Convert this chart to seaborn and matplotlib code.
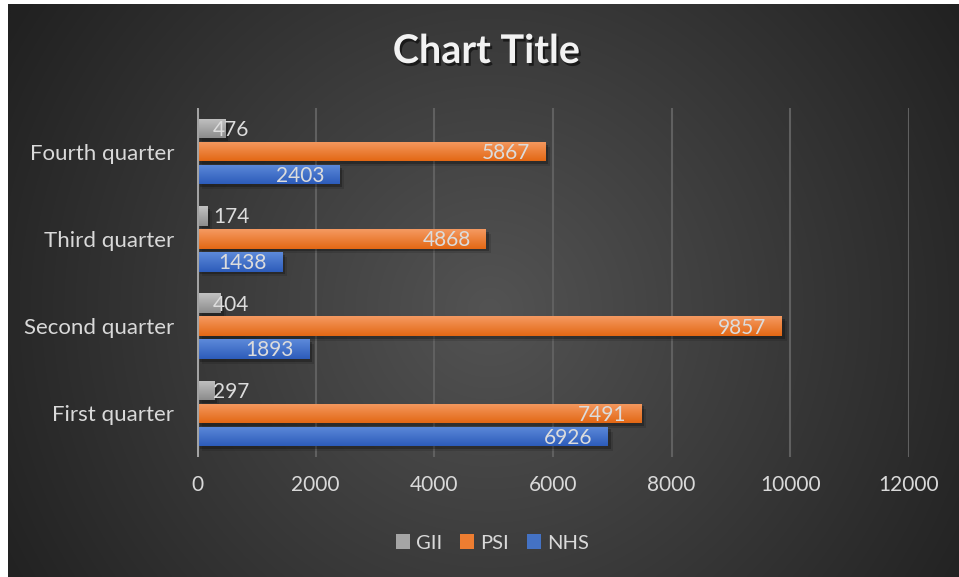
import numpy as np
import pandas as pd
import matplotlib
matplotlib.use("Agg")
import matplotlib.pyplot as plt
import matplotlib.colors as mcolors
import seaborn as sns
from matplotlib import patheffects as pe
from matplotlib.patches import Rectangle

# ---------------- data ----------------
categories = ["Fourth quarter", "Third quarter", "Second quarter", "First quarter"]
series = ["GII", "PSI", "NHS"]
gii = [476, 174, 404, 297]
psi = [5867, 4868, 9857, 7491]
nhs = [2403, 1438, 1893, 6926]
xticks = [0, 2000, 4000, 6000, 8000, 10000, 12000]
title = "Chart Title"

colors = {"GII": "#a5a5a5", "PSI": "#ed7d31", "NHS": "#4472c4"}
grad = {"GII": ("#c2c2c2", "#8c8c8c"),
        "PSI": ("#f59a62", "#e36814"),
        "NHS": ("#5d8ada", "#2d5cba")}

df = pd.DataFrame({
    "quarter": categories * 3,
    "series": [s for s in series for _ in categories],
    "value": gii + psi + nhs,
})

sns.set_theme(style="dark")
plt.rcParams["font.family"] = ["Lato", "DejaVu Sans"]

W, H = 959, 577
fig = plt.figure(figsize=(W / 100, H / 100), dpi=100, facecolor="white")

# ---------------- radial background ----------------
bg = fig.add_axes([8 / W, 0, 1 - 8 / W, 1 - 4 / H], zorder=-10)
bg.set_axis_off()
ny, nx = 300, 500
yy, xx = np.mgrid[0:ny, 0:nx]
px = 8 + (xx + 0.5) / nx * (W - 8)
py = 4 + (yy + 0.5) / ny * (H - 4)
cx, cy = 490, 310
d = np.clip(np.hypot(px - cx, py - cy) / 560, 0, 1)
c0, c1 = 0x53 / 255, 0x21 / 255
val = c0 + (c1 - c0) * d
bg.imshow(np.dstack([val, val, val]), aspect="auto", extent=[0, 1, 0, 1],
          origin="upper", interpolation="bilinear")
bg.set_xlim(0, 1)
bg.set_ylim(0, 1)

# ---------------- main axes ----------------
ax = fig.add_axes([197 / W, 1 - 457 / H, (909 - 197) / W, (457 - 108) / H])
ax.set_facecolor("none")
sns.barplot(data=df, y="quarter", x="value", hue="series", order=categories,
            hue_order=series, palette=colors, orient="h", width=0.79, gap=0.155,
            saturation=1, errorbar=None, legend=False, ax=ax, zorder=3,
            linewidth=0, edgecolor="none")

hex2series = {mcolors.to_hex(v): k for k, v in colors.items()}
bars = []
for patch in list(ax.patches):
    s = hex2series.get(mcolors.to_hex(patch.get_facecolor()))
    if s is None:
        continue
    patch.set_edgecolor("none")
    patch.set_linewidth(0)
    x0, y0 = patch.get_x(), patch.get_y()
    w, h = patch.get_width(), patch.get_height()
    top = np.array(mcolors.to_rgb(grad[s][0]))
    bot = np.array(mcolors.to_rgb(grad[s][1]))
    t = np.linspace(0, 1, 64)[:, None, None]
    gimg = top + (bot - top) * t
    im = ax.imshow(gimg, extent=(x0, x0 + w, y0 + h, y0), aspect="auto",
                   origin="upper", interpolation="bilinear", zorder=3.5)
    im.set_clip_path(patch)
    patch.set_path_effects([
        pe.SimplePatchShadow(offset=(3.5, -3.5), shadow_rgbFace="black", alpha=0.12),
        pe.SimplePatchShadow(offset=(2, -2), shadow_rgbFace="black", alpha=0.25),
        pe.Normal()])
    bars.append((patch, x0 + w, y0 + h / 2))

ax.set_xlim(0, 12000)
ax.set_ylim(3.5, -0.5)
ax.set_xticks(xticks)
ax.set_xticklabels([str(v) for v in xticks])
ax.set_xlabel("")
ax.set_ylabel("")
for sp in ax.spines.values():
    sp.set_visible(False)
ax.set_axisbelow(True)
ax.xaxis.grid(True, color="#606060", lw=1.5, zorder=0)
ax.yaxis.grid(False)
ax.axvline(0, color="#a3a3a3", lw=2.2, zorder=5)
ax.tick_params(axis="x", length=0, pad=13, labelsize=15, labelcolor="#d9d9d9")
ax.tick_params(axis="y", length=0, pad=16.5, labelsize=16, labelcolor="#d9d9d9")

# ---------------- data labels ----------------
fig.canvas.draw()
renderer = fig.canvas.get_renderer()
x_zero_px = ax.transData.transform((0, 0))[0]
for patch, xend, yc in bars:
    txt = ax.annotate(f"{int(round(xend))}", xy=(xend, yc), xytext=(-11, -1),
                      textcoords="offset points", ha="right", va="center",
                      fontsize=15, color="#dcdcdc", zorder=6)
    tw = txt.get_window_extent(renderer).width
    bar_px = ax.transData.transform((xend, 0))[0] - x_zero_px
    if tw + 2 * 11 * 100 / 72 > bar_px:
        txt.xy = (0, yc)
        txt.set_position((11.5, -1))
        txt.set_ha("left")

# ---------------- legend ----------------
handles = [Rectangle((0, 0), 1, 1, facecolor=colors[s], edgecolor="none") for s in series]
fig.legend(handles, series, loc="center", bbox_to_anchor=(492.5 / W, 1 - 543 / H),
           ncol=3, frameon=False, fontsize=14.5, handlelength=0.7, handleheight=0.7,
           handletextpad=0.3, columnspacing=0.9, labelcolor="#d9d9d9")

# ---------------- title ----------------
fig.text(486.5 / W, 1 - 63 / H, title, ha="center", va="baseline",
         fontsize=28.5, fontweight="bold", color="#f2f2f2",
         path_effects=[pe.withSimplePatchShadow(offset=(1.5, -2), shadow_rgbFace="black", alpha=0.55)])

fig.savefig("out.png", dpi=100, facecolor="white")
